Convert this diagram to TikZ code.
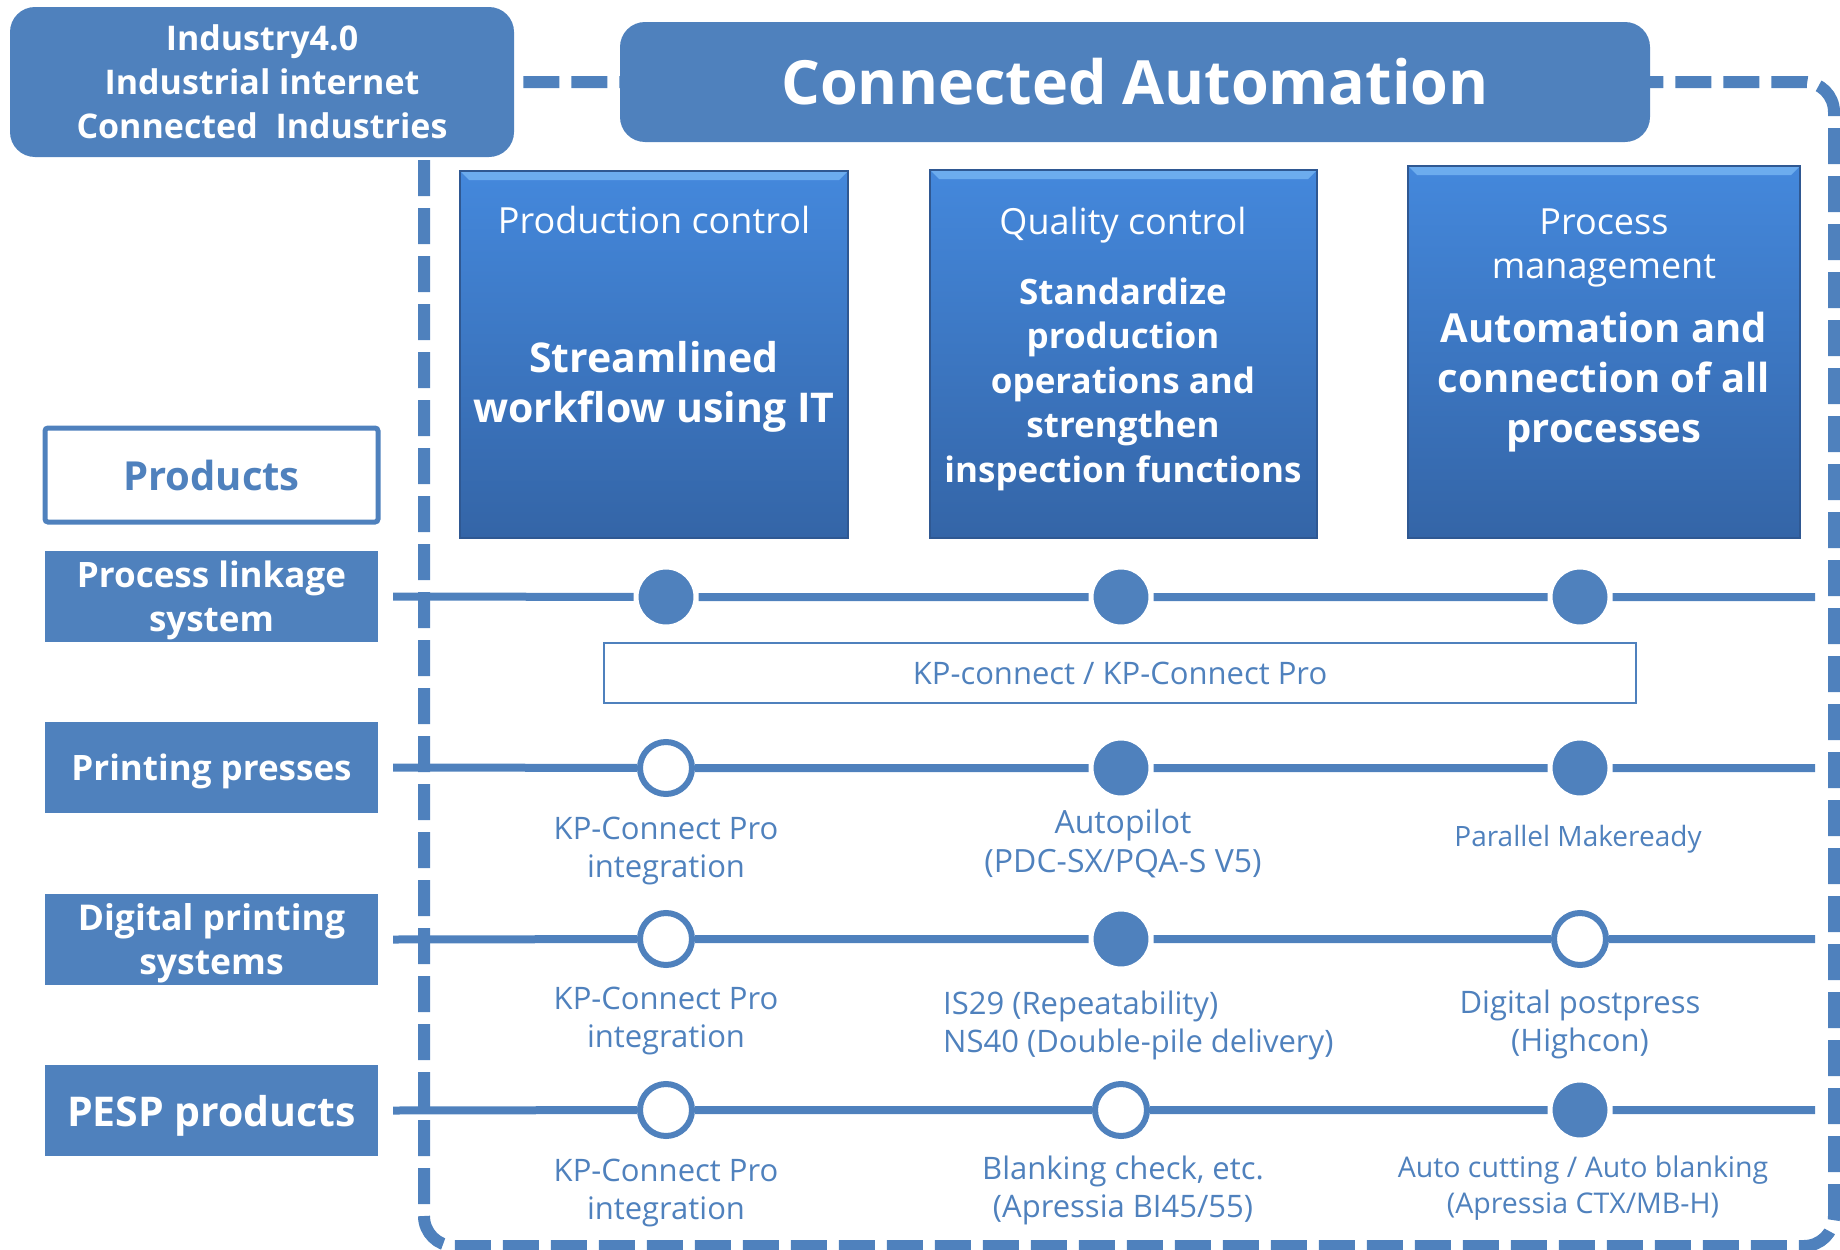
\documentclass[tikz,border=0pt]{standalone}
\usepackage{fontspec}
\setmainfont{Open Sans}
\usetikzlibrary{positioning}
\definecolor{kblue}{RGB}{79,129,189}
\definecolor{ktop}{RGB}{68,136,220}
\definecolor{kbot}{RGB}{52,101,167}
\definecolor{kedge}{RGB}{47,88,146}
\definecolor{kbevel}{RGB}{108,172,238}

\begin{document}
\begin{tikzpicture}[x=1pt,y=-1pt]
\tikzstyle{outerframe}=[draw=kblue, line width=12pt, dash pattern=on 36pt off 12pt, rounded corners=30pt]
\tikzstyle{banner}=[fill=kblue, rounded corners=25pt, text=white, align=center, inner sep=0pt]
\tikzstyle{colbox}=[draw=kedge, line width=1.5pt, top color=ktop, bottom color=kbot, inner sep=0pt,
  path picture={\fill[kbevel] (path picture bounding box.north west) -- (path picture bounding box.north east)
    -- ([xshift=-9pt,yshift=-9pt]path picture bounding box.north east) -- ([xshift=9pt,yshift=-9pt]path picture bounding box.north west) -- cycle;}]
\tikzstyle{coltitle}=[text=white, align=center, inner sep=0pt, anchor=base, font=\fontsize{36}{44}\selectfont]
\tikzstyle{colbody}=[text=white, align=center, inner sep=0pt, anchor=base]
\tikzstyle{rowbox}=[fill=kblue, text=white, align=center, inner sep=0pt, text depth=0pt, minimum width=333pt, minimum height=91pt]
\tikzstyle{rowline}=[draw=kblue, line width=8pt]
\tikzstyle{fdot}=[circle, fill=kblue, draw=white, line width=5pt, minimum size=60pt, inner sep=0pt]
\tikzstyle{odot}=[circle, fill=white, draw=kblue, line width=6pt, minimum size=52pt, inner sep=0pt]
\tikzstyle{label}=[text=kblue, align=center, inner sep=0pt, anchor=base, font=\fontsize{31}{38}\selectfont]

\useasboundingbox (0,0) rectangle (1840,1250);
\draw[outerframe] (424,82) rectangle (1834,1246);

% header
\node[banner, minimum width=504pt, minimum height=150pt, font=\bfseries\fontsize{34}{44}\selectfont] (ind) at (262,82) {Industry4.0\\Industrial internet\\Connected~\ Industries};
\node[banner, minimum width=1030pt, minimum height=120pt, font=\bfseries\fontsize{61}{70}\selectfont] (ca) at (1135,82) {Connected Automation};

% three columns (base = last line)
\node[colbox, minimum width=388pt, minimum height=367pt] (pc) at (654,354.5) {};
\node[coltitle] (pct) at (654,233) {Production control};
\node[colbody, font=\bfseries\fontsize{41}{50}\selectfont] (pcb) at (654,422) {Streamlined\\workflow using IT};

\node[colbox, minimum width=387pt, minimum height=368pt] (qc) at (1123.5,354) {};
\node[coltitle] (qct) at (1123,234) {Quality control};
\node[colbody, font=\bfseries\fontsize{35}{44.5}\selectfont] (qcb) at (1123,482) {Standardize\\production\\operations and\\strengthen\\inspection functions};

\node[colbox, minimum width=392pt, minimum height=372pt] (pm) at (1604,352) {};
\node[coltitle] (pmt) at (1604,278) {Process\\management};
\node[colbody, font=\bfseries\fontsize{40}{50}\selectfont] (pmb) at (1604,442) {Automation and\\connection of all\\processes};

% products
\node[rowbox, fill=white, draw=kblue, line width=5pt, rounded corners=3pt, text=kblue, minimum height=94pt, font=\bfseries\fontsize{40}{50}\selectfont] (prod) at (211.5,475) {Products};
\node[rowbox, font=\bfseries\fontsize{35}{44}\selectfont] (pl) at (211.5,596.5) {Process linkage\\system};
\node[rowbox, font=\bfseries\fontsize{35}{44}\selectfont] (pp) at (211.5,767.5) {Printing presses};
\node[rowbox, font=\bfseries\fontsize{35.5}{44}\selectfont] (dp) at (211.5,939.5) {Digital printing\\systems};
\node[rowbox, font=\bfseries\fontsize{41}{50}\selectfont] (pe) at (211.5,1110.5) {PESP products};

% stations
\node[fdot] (pl1) at (666,597) {};
\node[fdot] (pl2) at (1121,597) {};
\node[fdot] (pl3) at (1580,597) {};
\node[odot] (pp1) at (666,768) {};
\node[fdot] (pp2) at (1121,768) {};
\node[fdot] (pp3) at (1580,768) {};
\node[odot] (dp1) at (666,939) {};
\node[fdot] (dp2) at (1121,939) {};
\node[odot] (dp3) at (1580,939) {};
\node[odot] (pe1) at (666,1110) {};
\node[odot] (pe2) at (1121,1110) {};
\node[fdot] (pe3) at (1580,1110) {};
\coordinate (plend) at (1815,597);
\coordinate (ppend) at (1815,768);
\coordinate (dpend) at (1815,939);
\coordinate (peend) at (1815,1110);

\draw[rowline] ([xshift=15pt]pl.east) -- (pl1) -- (pl2) -- (pl3) -- (plend);
\draw[rowline] ([xshift=15pt]pp.east) -- (pp1) -- (pp2) -- (pp3) -- (ppend);
\draw[rowline] ([xshift=15pt]dp.east) -- (dp1) -- (dp2) -- (dp3) -- (dpend);
\draw[rowline] ([xshift=15pt]pe.east) -- (pe1) -- (pe2) -- (pe3) -- (peend);

\node[draw=kblue, line width=2pt, minimum width=1032pt, minimum height=60pt, inner sep=0pt, text=kblue, font=\fontsize{31}{36}\selectfont] (kp) at (1120,673) {KP-connect / KP-Connect Pro};

% labels (base = last line)
\node[label] (pp1t) at (666,877) {KP-Connect Pro\\integration};
\node[label, font=\fontsize{32}{39}\selectfont] (pp2t) at (1123,872) {Autopilot\\(PDC-SX/PQA-S V5)};
\node[label, font=\fontsize{28}{36}\selectfont] (pp3t) at (1578,846) {Parallel Makeready};
\node[label] (dp1t) at (666,1047) {KP-Connect Pro\\integration};
\node[label, align=left, anchor=base west] (dp2t) at (943,1052) {IS29 (Repeatability)\\NS40 (Double-pile delivery)};
\node[label] (dp3t) at (1580,1051) {Digital postpress\\(Highcon)};
\node[label] (pe1t) at (666,1219) {KP-Connect Pro\\integration};
\node[label] (pe2t) at (1123,1217) {Blanking check, etc.\\(Apressia BI45/55)};
\node[label, font=\fontsize{28.5}{36}\selectfont] (pe3t) at (1583,1213) {Auto cutting / Auto blanking\\(Apressia CTX/MB-H)};
\end{tikzpicture}
\end{document}
